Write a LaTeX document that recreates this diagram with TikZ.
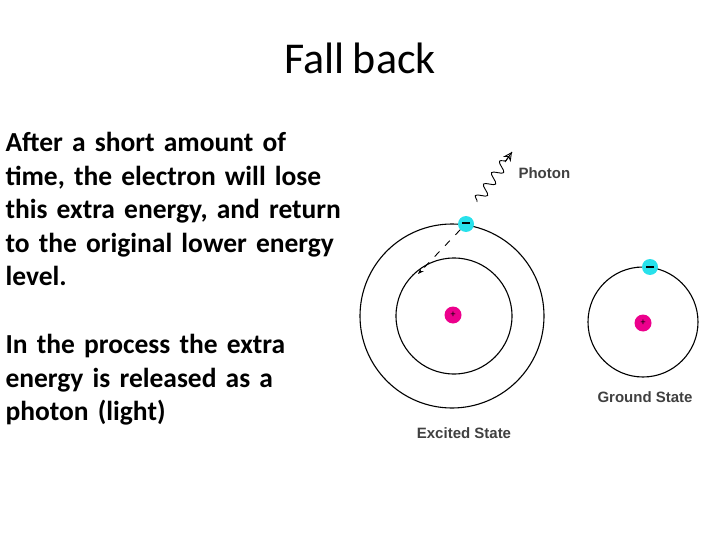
\documentclass[tikz,border=0pt]{standalone}
\usepackage{fontspec}
\setmainfont[WordSpace=0.85]{Carlito}
\newfontfamily\lblfont{Liberation Sans}
\usetikzlibrary{decorations.pathmorphing,arrows.meta,calc}
\definecolor{elec}{RGB}{40,225,235}
\tikzset{orbit/.style={draw=black,line width=1.1pt},
 electron/.style={circle,fill=elec,minimum size=16pt,inner sep=0pt},
 nucleus/.style={circle,fill=magenta,minimum size=17pt,inner sep=0pt,font=\fontsize{10}{10}\selectfont},
 lbl/.style={font=\lblfont\bfseries\fontsize{15}{15}\selectfont,text=black!75},
 body/.style={anchor=north west,align=left,text width=380pt,font=\bfseries\fontsize{27.5}{33.5}\selectfont}}
\begin{document}
\begin{tikzpicture}[x=1pt,y=-1pt]
\useasboundingbox (0,0) rectangle (720,540);
\node (title) at (360,58) {\fontsize{44}{46}\selectfont Fall back};
\node[body] (t1) at (2,129) {After a short amount of\\time, the electron will lose\\this extra energy, and return\\to the original lower energy\\level.};
\node[body] (t2) at (2,331) {In the process the extra\\energy is released as a\\photon (light)};
\draw[orbit] (452,316) circle[radius=92];
\draw[orbit] (454,316) circle[radius=58];
\draw[orbit] (643,322) circle[radius=55];
\node[nucleus] (n1) at (453,315) {+};
\node[nucleus] (n2) at (643,323) {+};
\node[electron] (e1) at (466,224) {};
\draw[line width=1.3pt] ($(e1)+(-4,-1)$) -- ($(e1)+(4,-1)$);
\node[electron] (e2) at (650,267) {};
\draw[line width=1.3pt] ($(e2)+(-4,0)$) -- ($(e2)+(4,0)$);
\coordinate (d1) at (418,274);
\draw[dashed,dash pattern=on 7pt off 8pt,line width=0.9pt,-{Stealth[length=6pt]}] (e1.south west) -- (d1);
\coordinate (p0) at (477,202);
\coordinate (p1) at (512,152);
\draw[line width=0.9pt,decorate,decoration={snake,amplitude=5pt,segment length=14pt,post length=8pt}] (p0) -- (p1);
\draw[line width=0.9pt,-{Stealth[open,length=9pt,width=9pt]}] ($(p0)!0.8!(p1)$) -- (p1);
\node[lbl,anchor=west] (ph) at (515,173) {Photon};
\node[lbl] (gs) at (645,397) {Ground State};
\node[lbl] (es) at (464,433) {Excited State};
\end{tikzpicture}
\end{document}
